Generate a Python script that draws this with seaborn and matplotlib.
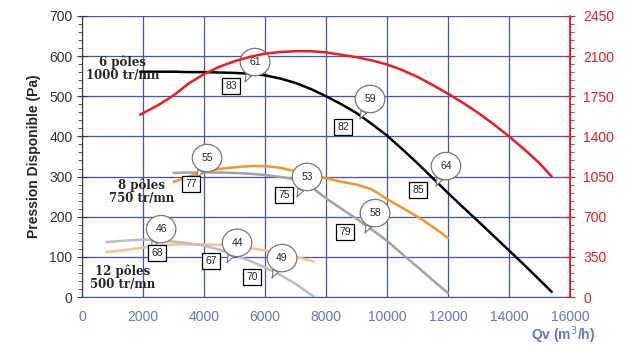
import matplotlib
matplotlib.use("Agg")
import matplotlib.pyplot as plt
import seaborn as sns
from matplotlib.ticker import MultipleLocator, AutoMinorLocator

# 6 poles - 1000 tr/mn : pression disponible (Pa)
qv_6 = [1900, 2500, 3000, 3500, 4000, 4500, 5000, 5500, 6000, 6500, 7000, 7500, 8000, 8500,
        9000, 9500, 10000, 10500, 11000, 11500, 12000, 12500, 13000, 13500, 14000, 14500, 15000, 15400]
p_6 = [561, 561, 561, 560, 560, 559, 558, 556, 552, 544, 533, 518, 500, 480,
       458, 431, 402, 368, 333, 296, 259, 223, 188, 152, 116, 80, 43, 13]

# courbe rouge (axe de droite)
qv_red = qv_6
w_red = [1589, 1673, 1757, 1862, 1943, 2006, 2055, 2093, 2121, 2135, 2142, 2142, 2132, 2111,
         2090, 2062, 2027, 1978, 1918, 1848, 1771, 1691, 1603, 1505, 1400, 1288, 1166, 1050]

# 8 poles - 750 tr/mn
qv_8 = [3000, 3500, 4000, 4500, 5000, 5500, 6000, 6500, 7000, 7500, 8000, 8500, 9000, 9500,
        10000, 10500, 11000, 11500, 12000]
p_8_orange = [287, 300, 312, 319, 323, 326, 326, 322, 313, 305, 296, 287, 280, 268,
              244, 222, 200, 175, 147]
p_8_gray = [309, 310, 310, 310, 309, 307, 304, 299, 293, 275, 246, 220, 195, 168,
            140, 107, 75, 42, 10]

# 12 poles - 500 tr/mn
qv_12 = [800, 1500, 2000, 2500, 3000, 3500, 4000, 4500, 5000, 5500, 6000, 6500, 7000, 7500, 7600]
p_12_orange = [112, 118, 123, 127, 131, 131, 131, 130, 127, 122, 116, 108, 100, 91, 88]
p_12_gray = [137, 141, 143, 142, 138, 134, 128, 118, 105, 90, 74, 55, 33, 6, 2]

# bulles (rendement) et cadres (niveau sonore)
bubble_txt = ["61", "59", "64", "55", "53", "58", "46", "44", "49"]
bubble_x = [5672, 9443, 11934, 4098, 7377, 9607, 2590, 5082, 6557]
bubble_y = [585, 493, 326, 346, 299, 209, 169, 135, 97]
box_txt = ["83", "82", "85", "77", "75", "79", "68", "67", "70"]
box_x = [4885, 8557, 11016, 3574, 6623, 8623, 2459, 4230, 5574]
box_y = [526, 424, 267, 282, 254, 162, 110, 90, 50]

sns.set_style("white")
plt.rcParams['font.family'] = ['Liberation Sans', 'DejaVu Sans']

fig = plt.figure(figsize=(6.27, 3.45), dpi=100)
ax = fig.add_axes([0.131, 0.139, 0.778, 0.815])
ax2 = ax.twinx()

grid_col = "#4152c4"
lbl_blue = "#6575c8"
red = "#ee1c1c"
ax.set_xlim(0, 16000)
ax.set_ylim(0, 700)
ax2.set_ylim(0, 2450)
ax.xaxis.set_major_locator(MultipleLocator(2000))
ax.yaxis.set_major_locator(MultipleLocator(100))
ax2.yaxis.set_major_locator(MultipleLocator(350))
ax.xaxis.set_minor_locator(AutoMinorLocator(4))
ax.yaxis.set_minor_locator(AutoMinorLocator(5))
ax2.yaxis.set_minor_locator(AutoMinorLocator(5))
ax.grid(True, which="major", color=grid_col, lw=0.9)

lw = 1.8
sns.lineplot(x=qv_12, y=p_12_orange, ax=ax, color="#f6c28e", lw=lw)
sns.lineplot(x=qv_12, y=p_12_gray, ax=ax, color="#bdbdbd", lw=lw)
sns.lineplot(x=qv_8, y=p_8_gray, ax=ax, color="#a3a3a3", lw=lw)
sns.lineplot(x=qv_8, y=p_8_orange, ax=ax, color="#f39a1e", lw=lw)
sns.lineplot(x=qv_6, y=p_6, ax=ax, color="black", lw=lw)
sns.lineplot(x=qv_red, y=w_red, ax=ax2, color=red, lw=lw)

for t, x, y in zip(bubble_txt, bubble_x, bubble_y):
    ax.annotate(t, xy=(x - 330, y - 50), xytext=(x, y), textcoords="data",
                ha="center", va="center", fontsize=7.5, zorder=6,
                bbox=dict(boxstyle="ellipse,pad=0.45", fc="white", ec="#777777", lw=0.9),
                arrowprops=dict(arrowstyle="wedge,tail_width=0.6,shrink_factor=0.4",
                                fc="white", ec="#777777", lw=0.8, shrinkA=0, shrinkB=0))
for t, x, y in zip(box_txt, box_x, box_y):
    ax.text(x, y, t, ha="center", va="center", fontsize=7.5, zorder=6,
            bbox=dict(boxstyle="square,pad=0.3", fc="white", ec="black", lw=0.9))

serif = dict(family="DejaVu Serif", fontweight="bold", fontsize=8.5, ha="center",
             va="center", linespacing=1.0, zorder=7)
ax.text(1330, 568, "6 pôles\n1000 tr/mn", **serif)
ax.text(1950, 262, "8 pôles\n750 tr/mn", **serif)
ax.text(1330, 48, "12 pôles\n500 tr/mn", **serif)

ax.set_ylabel("Pression Disponible (Pa)", fontsize=10, fontweight="bold", labelpad=6)
ax.set_xlabel("")
fig.text(0.898, 0.029, "Qv (m$^3$/h)", color=lbl_blue, fontsize=10,
         fontweight="bold", ha="center", va="center")

ax.tick_params(axis="y", which="major", direction="inout", length=7, labelsize=10,
               labelcolor="#333333", color="#333333")
ax.tick_params(axis="y", which="minor", direction="out", length=3, color="#333333")
ax.tick_params(axis="x", which="major", direction="inout", length=7, labelsize=10,
               labelcolor=lbl_blue, color=grid_col, pad=6)
ax.tick_params(axis="x", which="minor", direction="out", length=3, color=grid_col)
ax2.tick_params(axis="y", which="major", direction="inout", length=7, labelsize=10,
                labelcolor=red, color=red, pad=6)
ax2.tick_params(axis="y", which="minor", direction="out", length=3, color=red)

for a in (ax, ax2):
    a.spines["top"].set_visible(False)
ax.spines["left"].set_color("#333333")
ax.spines["bottom"].set_color(grid_col)
ax2.spines["right"].set_color(red)
ax2.spines["right"].set_linewidth(1.2)
ax2.spines["left"].set_visible(False)
ax2.spines["bottom"].set_visible(False)

fig.savefig("out.png", dpi=100)
